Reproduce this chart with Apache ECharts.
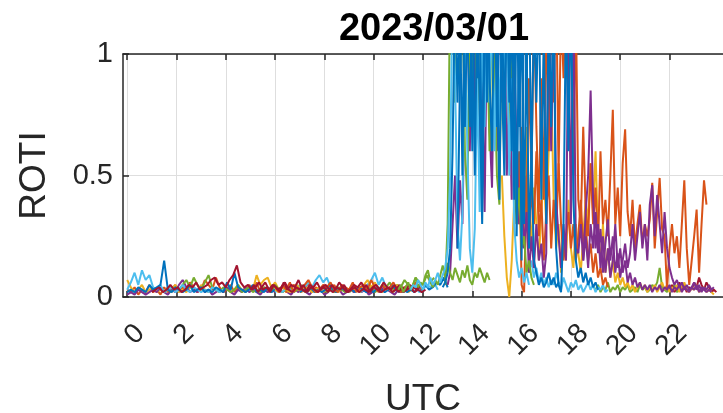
<!DOCTYPE html>
<html><head><meta charset="utf-8">
<script src="https://cdn.jsdelivr.net/npm/echarts@6/dist/echarts.min.js"></script>
<style>html,body{margin:0;padding:0;background:#fff}#c{width:723px;height:413px}</style>
</head><body><div id="c"></div>
<script>
// ---------- data ----------
const titleText = '2023/03/01';
const xName = 'UTC';
const yName = 'ROTI';
const tickHours = [0, 2, 4, 6, 8, 10, 12, 14, 16, 18, 20, 22];
const yTicks = [0, 0.5, 1];

// quiet period arcs (start hour, step 0.15 h)
const quietOrange = [0.03,0.02,0.04,0.01,0.03,0.02,0.05,0.02,0.03,0.01,0.04,0.02,0.03,0.05,0.02,0.04,0.03,0.06,0.04,0.02,0.03,0.07,0.05,0.03,0.08,0.04,0.02,0.03,0.05,0.02,0.04,0.03,0.02,0.05,0.03,0.06,0.02,0.04,0.03,0.02,0.05,0.03,0.04,0.02,0.03,0.05,0.04,0.02,0.03,0.06,0.02,0.04,0.03,0.02,0.04,0.03,0.05,0.02,0.03,0.04,0.02];
const quietYellow = [0.07,0.04,0.02,0.03,0.05,0.02,0.03,0.04,0.02,0.03,0.02,0.04,0.03,0.05,0.02,0.03,0.02,0.04,0.03,0.02,0.05,0.03,0.02,0.04,0.03,0.02,0.03,0.04,0.02,0.03,0.05,0.03,0.02,0.04,0.03,0.09,0.05,0.07,0.08,0.04,0.06,0.03,0.02,0.04,0.03,0.02,0.03];
const quietPurple = [0.01,0.02,0.01,0.03,0.02,0.01,0.02,0.03,0.02,0.04,0.02,0.01,0.03,0.02,0.05,0.07,0.04,0.02,0.03,0.02,0.04,0.02,0.03,0.01,0.02,0.03,0.02,0.04,0.02,0.01,0.03,0.02,0.04,0.02,0.03,0.02,0.01,0.03,0.02,0.03,0.02];
const quietPurple2 = [0.02,0.01,0.03,0.02,0.04,0.02,0.01,0.03,0.02,0.03,0.01,0.02,0.04,0.02,0.03,0.01,0.02,0.03,0.02,0.04,0.02,0.03,0.01,0.02,0.03,0.02,0.04,0.03,0.02,0.01,0.03,0.02,0.04,0.02];
const quietGreen = [0.02,0.03,0.02,0.04,0.03,0.05,0.07,0.04,0.08,0.05,0.03,0.06,0.09,0.04,0.03,0.02,0.04,0.03,0.02,0.03,0.05,0.02,0.03,0.04,0.02,0.03,0.02,0.04,0.03,0.02,0.05,0.03,0.02,0.03,0.04,0.02,0.03,0.05,0.02,0.04,0.03,0.02,0.03,0.04,0.02,0.03,0.02,0.04,0.03,0.02,0.03];
const quietGreen2 = [0.02,0.04,0.03,0.02,0.05,0.03,0.04,0.02,0.03,0.05,0.04,0.06,0.03,0.05,0.04,0.07,0.05,0.04,0.08,0.06,0.05,0.09,0.06,0.08];
const quietCyan = [0.03,0.06,0.10,0.05,0.11,0.07,0.09,0.04,0.03,0.05,0.02,0.03,0.04,0.02,0.03,0.05,0.03,0.02,0.04,0.03,0.02,0.03,0.02,0.04,0.03,0.02,0.03];
const quietBlue = [0.02,0.03,0.02,0.04,0.03,0.02,0.05,0.03,0.04,0.05,0.15,0.03,0.02,0.04,0.03,0.02,0.03,0.05,0.02,0.03,0.04,0.02,0.03,0.02,0.04,0.03,0.02,0.06,0.03,0.10,0.04,0.03,0.02,0.03,0.05,0.02,0.03,0.02,0.04,0.02,0.03];
const quietCyan2 = [0.02,0.03,0.02,0.04,0.03,0.02,0.05,0.03,0.04,0.06,0.04,0.07,0.09,0.06,0.08,0.04,0.03,0.02,0.04,0.03,0.02,0.03,0.04,0.02,0.03,0.05,0.07,0.10,0.05,0.08,0.04,0.03,0.02,0.04,0.03,0.02,0.05,0.03,0.04,0.02,0.03,0.05,0.04,0.06,0.03];
const quietYellow2 = [0.03,0.02,0.04,0.03,0.02,0.03,0.05,0.02,0.04,0.03,0.02,0.03,0.04,0.02,0.03,0.05,0.03,0.02,0.04,0.03,0.02,0.03,0.04,0.02,0.05,0.07,0.04,0.06,0.03,0.02,0.04,0.03,0.02,0.05,0.03,0.04,0.02,0.03,0.06,0.04,0.03];
const quietBlue2 = [0.02,0.03,0.02,0.04,0.02,0.03,0.02,0.03,0.05,0.03,0.02,0.04,0.03,0.02,0.03,0.02,0.04,0.03,0.02,0.03,0.02,0.04,0.03,0.02,0.03,0.05,0.03,0.02,0.04,0.02,0.03,0.02,0.04,0.03,0.05,0.03,0.04,0.06,0.05,0.08,0.04];
const quietOrange2 = [0.04,0.02,0.05,0.03,0.06,0.02,0.04,0.03,0.05,0.07,0.04,0.02,0.03,0.05,0.04,0.06,0.03,0.02,0.05,0.04,0.03,0.06,0.02,0.04,0.05,0.03,0.07,0.04,0.02,0.05,0.03,0.04,0.06,0.03,0.02,0.04,0.05,0.03,0.06,0.04,0.03];
const quietRed2 = [0.03,0.05,0.02,0.04,0.06,0.03,0.05,0.04,0.02,0.06,0.03,0.05,0.04,0.07,0.03,0.02,0.05,0.04,0.06,0.03,0.04,0.02,0.05,0.03,0.06,0.04,0.02,0.03,0.05,0.04,0.06,0.03,0.02,0.04,0.05,0.03,0.06,0.04,0.03,0.05,0.02,0.04,0.03,0.05,0.04,0.03,0.05];
const quietRed = [0.02,0.03,0.04,0.02,0.03,0.05,0.03,0.04,0.02,0.03,0.05,0.04,0.06,0.03,0.04,0.05,0.07,0.08,0.05,0.06,0.04,0.07,0.09,0.13,0.06,0.04,0.05,0.03,0.04,0.06,0.03,0.04,0.02,0.05,0.03,0.04,0.06,0.03,0.02,0.04,0.03,0.05,0.02,0.04,0.03,0.02,0.04,0.05,0.03,0.02,0.04,0.03,0.05,0.02,0.03,0.04,0.02,0.03,0.05,0.02,0.04,0.03,0.02,0.03,0.04,0.02,0.03,0.05,0.02,0.03,0.04,0.02,0.03,0.02,0.03];

// disturbed period arcs (step 0.1 h)
const greenLow = [0.03,0.05,0.02,0.04,0.06,0.03,0.05,0.08,0.04,0.06,0.05,0.09,0.11,0.06,0.04,0.07,0.05,0.09,0.13,0.08,0.14,0.10,0.07,0.12,0.09,0.06,0.11,0.08,0.13,0.07,0.05,0.10,0.08,0.12,0.09,0.06,0.10,0.07];
const greenHigh = [0.05,0.3,1.3,1.2,0.8,1.4,0.9,1.3,0.6,0.4,1.2,0.9,1.3,0.7,1.2,1.4,0.8,1.1,0.6,1.3,0.9,0.5,0.38,1.2,0.8,1.3,0.6,1.1,0.5,0.3,0.45,0.2,0.25,0.1,0.15,0.08,0.05];
const cyanHigh = [0.03,0.05,0.04,0.07,0.05,0.03,0.06,0.04,0.08,0.05,0.07,0.1,0.06,0.09,0.12,0.2,0.5,1.3,0.9,0.3,0.15,0.35,1.2,0.6,0.2,0.1,0.28,0.9,0.35,1.1,0.7,1.3,0.8,1.2,0.6,1.1,0.7,1.3,0.9,1.2,0.5,0.9,0.3,0.15,0.08,0.12,0.06,0.1,0.05];
const blueMain = [0.04,0.06,0.1,0.2,0.6,1.3,0.8,1.2,0.5,1.4,1.1,0.7,1.3,0.5,1.2,0.8,0.3,1.1,1.4,0.9,0.6,1.3,1.0,0.4,1.2,0.7,1.3,1.1,0.6,1.3,0.25,1.2,0.15,1.3,0.9,1.3,0.5,1.2,0.8,1.3,0.4,1.1,0.3,1.2,0.7,1.3,0.2,0.05,0.02,0.3,1.2,0.6,1.3,0.4,0.15,0.08,0.12,0.06,0.1,0.05,0.08,0.04,0.06,0.03];
const blueSecond = [0.2,0.9,1.3,0.7,1.2,1.4,0.6,1.3,0.9,1.2,0.45,1.3,0.8,1.3,1.1,1.4,0.7,1.2,0.9,0.5,1.3,0.8,1.2,0.4,1.3,0.7,1.2,0.3,1.1,0.2,0.6,0.15,0.1,0.05,0.08,0.04,0.06,0.1,0.05,0.08,0.04,0.06];
const purpleMain = [0.05,0.1,0.3,0.5,0.2,0.48,0.3,0.9,1.3,0.6,1.2,0.8,1.3,0.5,0.9,0.35,1.2,0.7,0.45,1.1,0.6,1.3,0.8,1.2,0.5,0.9,0.4,1.0,0.6,0.3,0.45,0.2,0.35,0.1,0.25,0.12,0.3,0.15,0.22,0.08,0.18,1.3,0.6,1.2,0.4,0.25,0.12,0.3,0.15,1.2,0.3,1.3,0.2,0.18,0.3,0.15,0.35,0.5,0.85,0.4,0.2,0.3,0.12,0.25,0.1,0.2,0.08,0.15,0.3,0.12,0.2,0.1,0.15,0.06,0.1,0.05,0.08,0.04,0.06,0.03,0.05,0.03,0.05,0.02,0.04,0.03,0.05,0.02,0.04,0.03,0.05,0.02,0.04,0.03,0.05,0.02,0.04,0.03,0.02,0.04,0.03,0.05,0.02,0.04,0.03,0.02,0.03,0.02];
const purpleLate = [0.15,0.25,0.12,0.3,0.2,0.35,0.18,0.28,0.1,0.22,0.32,0.15,0.25,0.1,0.18,0.08,0.15,0.22,0.12,0.18,0.3,0.15,0.25,0.35,0.2,0.3,0.15,0.38,0.46,0.25,0.42,0.3,0.18,0.35,0.2,0.12,0.08,0.05,0.07,0.04,0.06,0.03,0.05,0.03,0.04,0.06,0.03,0.05,0.02,0.04,0.03,0.05,0.03,0.04];
const orangeMain = [0.3,0.6,0.05,0.02,0.4,0.9,0.5,1.2,0.7,0.35,0.9,0.4,1.2,0.6,1.3,0.8,1.3,0.5,1.2,0.9,1.3,0.7,1.3,0.5,1.2,0.4,0.3,0.7,0.35,0.25,0.55,0.3,0.45,0.2,0.6,0.3,0.4,0.25,0.5,0.77,0.3,0.45,0.25,0.55,0.69,0.35,0.25,0.4,0.2,0.3,0.38,0.22,0.3,0.25,0.32,0.47,0.2,0.35,0.49,0.28,0.25,0.03,0.2,0.3,0.18,0.25,0.12,0.3,0.48,0.2,0.05,0.15,0.25,0.36,0.1,0.3,0.48,0.38];
const orangeSecond = [0.7,0.3,0.5,0.2,0.45,0.3,0.6,0.25,0.4,0.15,0.35,0.5,0.2,0.4,0.25,0.55,0.3,0.15,0.25,0.35,0.2,0.3,0.15,0.25,0.4,0.2,0.3,0.15,0.22,0.1,0.18,0.08,0.12,0.05,0.08,0.04];
const yellowMain = [0.5,0.25,0.08,0.0,0.15,0.4,0.6,0.3,0.5,0.25,0.7,0.4,0.2,0.45,0.3,0.15,0.35,0.5,0.3,0.6,0.88,0.4,0.2,0.3,0.1,0.25,0.15,0.4,0.2,0.12,0.3,0.18,0.1,0.25,0.4,0.3,0.55,0.35,0.6,0.25,0.15,0.3,0.1,0.2,0.08,0.15,0.06,0.1,0.05,0.08,0.04,0.06,0.03,0.05,0.02,0.04,0.06,0.03,0.05,0.02,0.04,0.03,0.05,0.02,0.04,0.06,0.03,0.05,0.02,0.04,0.03,0.05,0.02,0.04,0.06,0.03,0.02,0.04,0.03,0.05,0.02,0.03,0.04,0.02,0.03,0.02,0.01];
const greenLate = [0.03,0.05,0.02,0.04,0.03,0.06,0.02,0.04,0.03,0.05,0.02,0.04,0.03,0.05,0.02,0.03,0.04,0.02,0.05,0.03,0.04,0.02,0.03,0.05,0.04,0.06,0.12,0.04,0.03,0.02,0.04,0.03,0.05,0.02,0.03,0.04];
const cyanLate = [0.1,0.15,0.08,0.12,0.06,0.1,0.05,0.08,0.04,0.07,0.05,0.1,0.06,0.03,0.08,0.05,0.02,0.06,0.04,0.07,0.03,0.05,0.02,0.04,0.06,0.03,0.05,0.02,0.04,0.03,0.05,0.02,0.03];
const redLate = [0.03,0.05,0.02,0.04,0.06,0.03,0.05,0.02,0.04,0.03,0.06,0.04,0.08,0.05,0.03,0.06,0.04,0.02,0.03,0.02];

// arcs: [values, colour key, start hour, sampling step in hours] (draw order)
const arcs = [
  [quietPurple2, 'purple', 6.5, 0.15],
  [quietGreen2, 'green', 9.0, 0.15],
  [quietOrange, 'orange', 0.0, 0.15],
  [quietYellow, 'yellow', 0.0, 0.15],
  [quietPurple, 'purple', 0.0, 0.15],
  [quietGreen, 'green', 1.5, 0.15],
  [quietCyan, 'cyan', 0.0, 0.15],
  [quietBlue, 'blue', 0.0, 0.15],
  [quietCyan2, 'cyan', 6.0, 0.15],
  [quietYellow2, 'yellow', 6.0, 0.15],
  [quietBlue2, 'blue', 7.0, 0.15],
  [quietOrange2, 'orange', 6.0, 0.15],
  [quietRed2, 'red', 5.0, 0.15],
  [quietRed, 'red', 1.0, 0.15],
  [greenLate, 'green', 19.0, 0.1],
  [redLate, 'red', 22.0, 0.1],
  [cyanLate, 'cyan', 16.3, 0.1],
  [yellowMain, 'yellow', 15.2, 0.1],
  [orangeSecond, 'orange', 16.0, 0.1],
  [orangeMain, 'orange', 15.8, 0.1],
  [purpleLate, 'purple', 18.5, 0.1],
  [purpleMain, 'purple', 13.0, 0.1],
  [greenLow, 'green', 11.0, 0.1],
  [greenHigh, 'green', 12.9, 0.1],
  [cyanHigh, 'cyan', 11.5, 0.1],
  [blueSecond, 'blue', 13.4, 0.1],
  [blueMain, 'blue', 12.8, 0.1]
];

// ---------- style ----------
const COLORS = {blue:'#0072BD', orange:'#D95319', yellow:'#EDB120', purple:'#7E2F8E', green:'#77AC30', cyan:'#4DBEEE', red:'#A2142F'};
const FONT = '"Liberation Sans", Arial, Helvetica, sans-serif';
const AX = '#262626';
const GRIDC = '#dedede';
const X_MIN = -0.17, X_MAX = 24.17;
const LABEL_SHIFT = 0.53; // hours: rotated label anchor sits ~13px right of tick

const series = arcs.map(([vals, ck, t0, dt], k) => ({
  type: 'line',
  xAxisIndex: 1,
  yAxisIndex: 0,
  name: 'arc' + k,
  data: vals.map((v, i) => [+(t0 + i * dt).toFixed(3), v]),
  showSymbol: false,
  symbol: 'none',
  clip: true,
  lineStyle: {color: COLORS[ck], width: 2},
  itemStyle: {color: COLORS[ck]},
  animation: false,
  z: 2
}));

const chart = echarts.init(document.getElementById('c'), null, {renderer: 'canvas'});
chart.setOption({
  animation: false,
  backgroundColor: '#fff',
  title: {
    text: titleText, left: 429, top: 6, textAlign: 'center',
    textStyle: {fontFamily: FONT, fontSize: 38, fontWeight: 'bold', color: '#000'}
  },
  grid: {left: 123, right: 0, top: 54, bottom: 116, containLabel: false, outerBoundsMode: 'none'},
  xAxis: [
    {
      type: 'value', position: 'bottom',
      min: X_MIN - LABEL_SHIFT, max: X_MAX - LABEL_SHIFT,
      name: xName, nameLocation: 'middle', nameGap: 84,
      nameTextStyle: {fontFamily: FONT, fontSize: 37, color: AX},
      axisLine: {show: true, onZero: false, lineStyle: {color: AX, width: 1.5}},
      axisTick: {show: true, inside: true, length: 6, customValues: tickHours.map(v => v - LABEL_SHIFT), lineStyle: {color: AX, width: 1.5}},
      axisLabel: {show: true, customValues: tickHours, rotate: 45, fontSize: 28, fontFamily: FONT, color: AX, margin: 32, align: 'right', verticalAlign: 'middle', formatter: v => String(Math.round(v))},
      splitLine: {show: true, lineStyle: {color: GRIDC, width: 1}}
    },
    {
      type: 'value', position: 'top', min: X_MIN, max: X_MAX,
      axisLine: {show: true, onZero: false, lineStyle: {color: AX, width: 1.5}},
      axisTick: {show: true, inside: true, length: 6, customValues: tickHours, lineStyle: {color: AX, width: 1.5}},
      axisLabel: {show: false},
      splitLine: {show: false}
    }
  ],
  yAxis: [{
    type: 'value', min: 0, max: 1, interval: 0.5,
    name: yName, nameLocation: 'middle', nameGap: 70, nameRotate: 90,
    nameTextStyle: {fontFamily: FONT, fontSize: 37, color: AX},
    axisLine: {show: true, onZero: false, lineStyle: {color: AX, width: 1.5}},
    axisTick: {show: true, inside: true, length: 6, lineStyle: {color: AX, width: 1.5}},
    axisLabel: {fontSize: 29, fontFamily: FONT, color: AX, margin: 10, formatter: v => yTicks.includes(v) ? String(v) : ''},
    splitLine: {show: true, lineStyle: {color: GRIDC, width: 1}}
  }],
  series: series
});
</script></body></html>
